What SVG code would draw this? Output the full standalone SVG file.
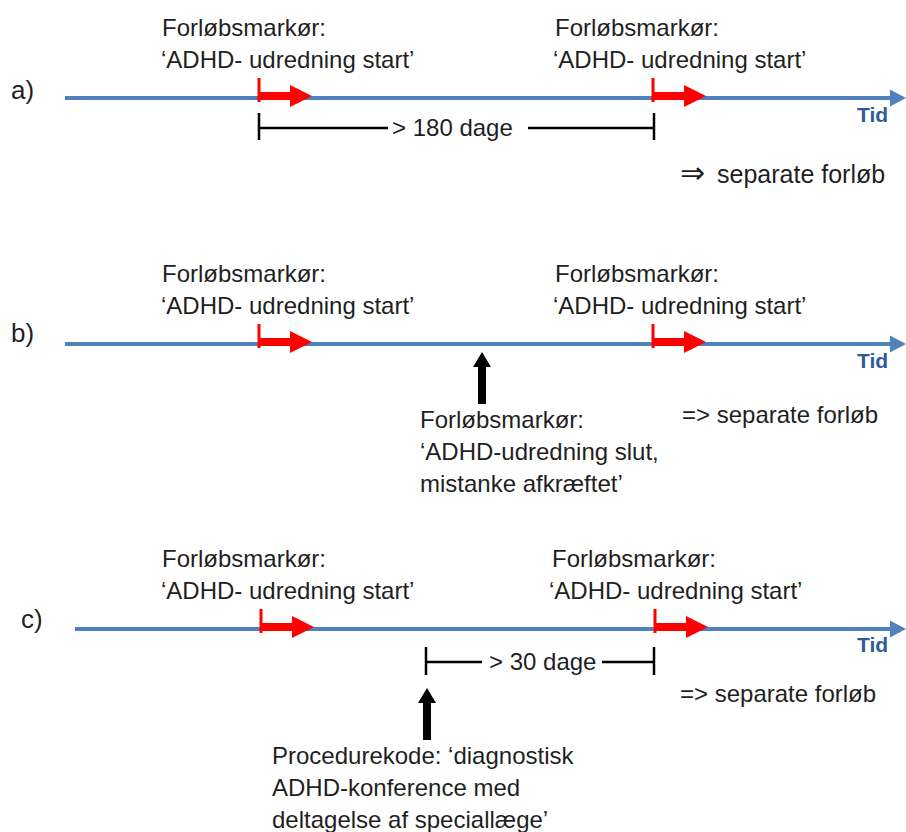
<svg xmlns="http://www.w3.org/2000/svg" width="906" height="832" viewBox="0 0 906 832">
<defs>
<style>
.t{font-family:"Liberation Sans",Arial,sans-serif;font-size:24px;fill:#1f1f1f}
.lbl{font-family:"Liberation Sans",Arial,sans-serif;font-size:26px;fill:#1f1f1f}
.tid{font-family:"Liberation Sans",Arial,sans-serif;font-size:21px;font-weight:bold;fill:#2E5A96}
.axis{stroke:#4F81BD;stroke-width:4;fill:none}
.dim{stroke:#000;stroke-width:2.5;fill:none}
.red{fill:#FF0000}
</style>
<g id="redmark">
<rect class="red" x="-1.5" y="-20" width="3" height="24"/>
<rect class="red" x="0" y="-6" width="33" height="8"/>
<polygon class="red" points="31,-13 53,-2 31,9"/>
</g>
<polygon id="axhead" fill="#4F81BD" points="0,-8.5 16,0 0,8.5"/>
<g id="uparrow">
<polygon fill="#000" points="0,0 9,15 4,15 4,52 -4,52 -4,15 -9,15"/>
</g>
</defs>
<rect width="906" height="832" fill="#fff"/>

<g id="connectors">
<line class="axis" x1="65" y1="98" x2="892" y2="98"/>
<use href="#axhead" x="890" y="98"/>
<line class="axis" x1="65" y1="344" x2="892" y2="344"/>
<use href="#axhead" x="890" y="344"/>
<line class="axis" x1="75" y1="629" x2="892" y2="629"/>
<use href="#axhead" x="890" y="629"/>
<path class="dim" d="M259,113V140M259,128H388M528,128H654M654,113V140"/>
<path class="dim" d="M426,647V675M426,662H482M602,662H654M654,647V675"/>
</g>

<g id="row-a">
<text class="lbl" x="11" y="99">a)</text>
<g id="a-m1"><use href="#redmark" x="259" y="98"/>
<text class="t" x="162" y="36">Forløbsmarkør:</text>
<text class="t" x="161" y="68">‘ADHD- udredning start’</text></g>
<g id="a-m2"><use href="#redmark" x="653" y="98"/>
<text class="t" x="555" y="36">Forløbsmarkør:</text>
<text class="t" x="553" y="68">‘ADHD- udredning start’</text></g>
<text class="t" x="392" y="136">&gt; 180 dage</text>
<text class="tid" x="857" y="122">Tid</text>
<text class="t" x="680" y="183" style="font-size:30px">⇒</text>
<text class="t" x="717" y="183" style="font-size:25px">separate forløb</text>
</g>

<g id="row-b">
<text class="lbl" x="11" y="342">b)</text>
<g id="b-m1"><use href="#redmark" x="259" y="344"/>
<text class="t" x="162" y="282">Forløbsmarkør:</text>
<text class="t" x="161" y="314">‘ADHD- udredning start’</text></g>
<g id="b-m2"><use href="#redmark" x="653" y="344"/>
<text class="t" x="555" y="282">Forløbsmarkør:</text>
<text class="t" x="553" y="314">‘ADHD- udredning start’</text></g>
<g id="b-end"><use href="#uparrow" x="482" y="352"/>
<text class="t" x="420" y="428">Forløbsmarkør:</text>
<text class="t" x="420" y="460">‘ADHD-udredning slut,</text>
<text class="t" x="420" y="492">mistanke afkræftet’</text></g>
<text class="tid" x="857" y="368">Tid</text>
<text class="t" x="682" y="423">=&gt; separate forløb</text>
</g>

<g id="row-c">
<text class="lbl" x="21" y="628">c)</text>
<g id="c-m1"><use href="#redmark" x="261" y="629"/>
<text class="t" x="162" y="567">Forløbsmarkør:</text>
<text class="t" x="161" y="599">‘ADHD- udredning start’</text></g>
<g id="c-m2"><use href="#redmark" x="655" y="629"/>
<text class="t" x="552" y="567">Forløbsmarkør:</text>
<text class="t" x="549" y="599">‘ADHD- udredning start’</text></g>
<text class="t" x="489" y="670">&gt; 30 dage</text>
<g id="c-proc"><use href="#uparrow" x="427" y="688"/>
<text class="t" x="272" y="764">Procedurekode: ‘diagnostisk</text>
<text class="t" x="272" y="796">ADHD-konference med</text>
<text class="t" x="272" y="828">deltagelse af speciallæge’</text></g>
<text class="tid" x="857" y="652">Tid</text>
<text class="t" x="680" y="702">=&gt; separate forløb</text>
</g>
</svg>
